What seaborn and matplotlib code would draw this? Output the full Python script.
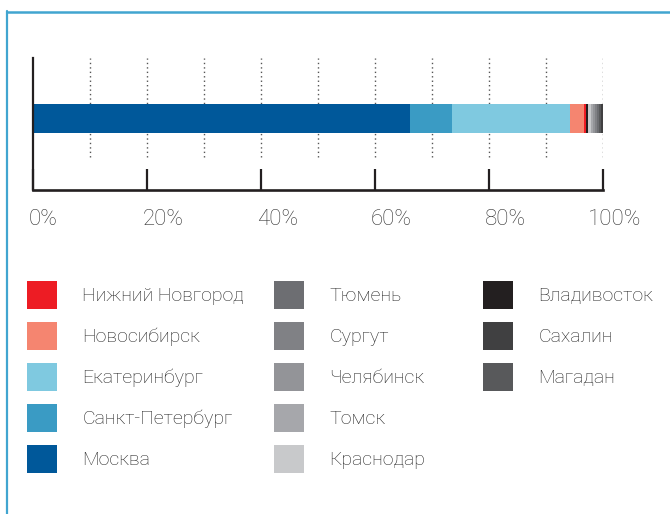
import matplotlib
matplotlib.use("Agg")
import matplotlib.pyplot as plt
import matplotlib.transforms as mtransforms
from matplotlib.patches import Patch
from matplotlib.lines import Line2D
import numpy as np
import seaborn as sns

# data: share of each city, in stacking order (left -> right)
cities = ["Москва", "Санкт-Петербург", "Екатеринбург", "Новосибирск",
          "Нижний Новгород", "Владивосток", "Краснодар", "Томск",
          "Челябинск", "Сургут", "Тюмень", "Магадан", "Сахалин"]
shares = [66.1, 7.4, 20.7, 2.5, 0.35, 0.35, 0.5, 0.35, 0.35, 0.35, 0.35, 0.3, 0.4]
colors = {
    "Нижний Новгород": "#ED1C24",
    "Новосибирск": "#F58570",
    "Екатеринбург": "#7FC9E0",
    "Санкт-Петербург": "#3A9BC4",
    "Москва": "#00589A",
    "Тюмень": "#6D6E72",
    "Сургут": "#808185",
    "Челябинск": "#939498",
    "Томск": "#A6A7AB",
    "Краснодар": "#C8C9CB",
    "Владивосток": "#231F20",
    "Сахалин": "#404041",
    "Магадан": "#58595B",
}
legend_cols = [
    ["Нижний Новгород", "Новосибирск", "Екатеринбург", "Санкт-Петербург", "Москва"],
    ["Тюмень", "Сургут", "Челябинск", "Томск", "Краснодар"],
    ["Владивосток", "Сахалин", "Магадан"],
]
tick_values = [0, 20, 40, 60, 80, 100]
tick_labels = ["0%", "20%", "40%", "60%", "80%", "100%"]
grid_values = [10, 20, 30, 40, 50, 60, 70, 80, 90, 100]

sns.set_style("white")
plt.rcParams["font.family"] = ["Roboto", "DejaVu Sans"]

W, H = 670, 514
fig = plt.figure(figsize=(W / 100, H / 100), dpi=100)
ax = fig.add_axes([33 / W, (H - 190) / H, 570 / W, 132 / H])

# stacked bar: draw cumulative totals from the longest down
cum = np.cumsum(shares)
for name, total in reversed(list(zip(cities, cum))):
    sns.barplot(x=[total], y=["all"], color=colors[name], orient="h",
                width=0.5, saturation=1, linewidth=0, ax=ax)

ax.set_xlim(0, 100)
ax.set_ylim(1.233, -1.043)
ax.set_yticks([])
ax.set_xlabel("")
ax.set_ylabel("")

# dotted grid lines, only upper part of the axes
for g in grid_values:
    ax.axvline(g, ymin=0.25, ymax=1.0, color="#555555", lw=1,
               linestyle=(0, (1, 2.2)), zorder=0.5)

for s in ["top", "right"]:
    ax.spines[s].set_visible(False)
ax.spines["bottom"].set_linewidth(1.9)
ax.spines["left"].set_linewidth(1.6)
ax.spines["bottom"].set_color("#231F20")
ax.spines["left"].set_color("#231F20")

ax.set_xticks(tick_values)
ax.set_xticklabels(tick_labels)
ax.tick_params(axis="x", bottom=True, direction="in", length=15, width=1.6,
               color="#231F20", pad=14, labelsize=16, labelcolor="#333333")
for lab in ax.get_xticklabels():
    lab.set_fontweight("light")
    lab.set_horizontalalignment("left")
    dx = -4 if lab.get_text() != "100%" else -15
    lab.set_transform(lab.get_transform() +
                      mtransforms.ScaledTranslation(dx / 100, 0, fig.dpi_scale_trans))

# legends: three separate columns
col_x = [27, 274, 483]
for cx, names in zip(col_x, legend_cols):
    handles = [Patch(facecolor=colors[n], edgecolor="none", label=n) for n in names]
    fig.legend(handles=handles, loc="upper left",
               bbox_to_anchor=(cx / W, (H - 281) / H),
               frameon=False, borderpad=0, borderaxespad=0,
               handlelength=1.54, handleheight=1.84, handletextpad=1.3,
               labelspacing=0.67, prop={"size": 14, "weight": "light"},
               labelcolor="#222222")

# blue frame lines
fig.add_artist(Line2D([6.5 / W, 6.5 / W], [0, (H - 11) / H], color="#41A5D0", lw=1.6))
fig.add_artist(Line2D([6.5 / W, 1], [(H - 11.5) / H, (H - 11.5) / H], color="#41A5D0", lw=1.8))

fig.savefig("out.png", dpi=100)
